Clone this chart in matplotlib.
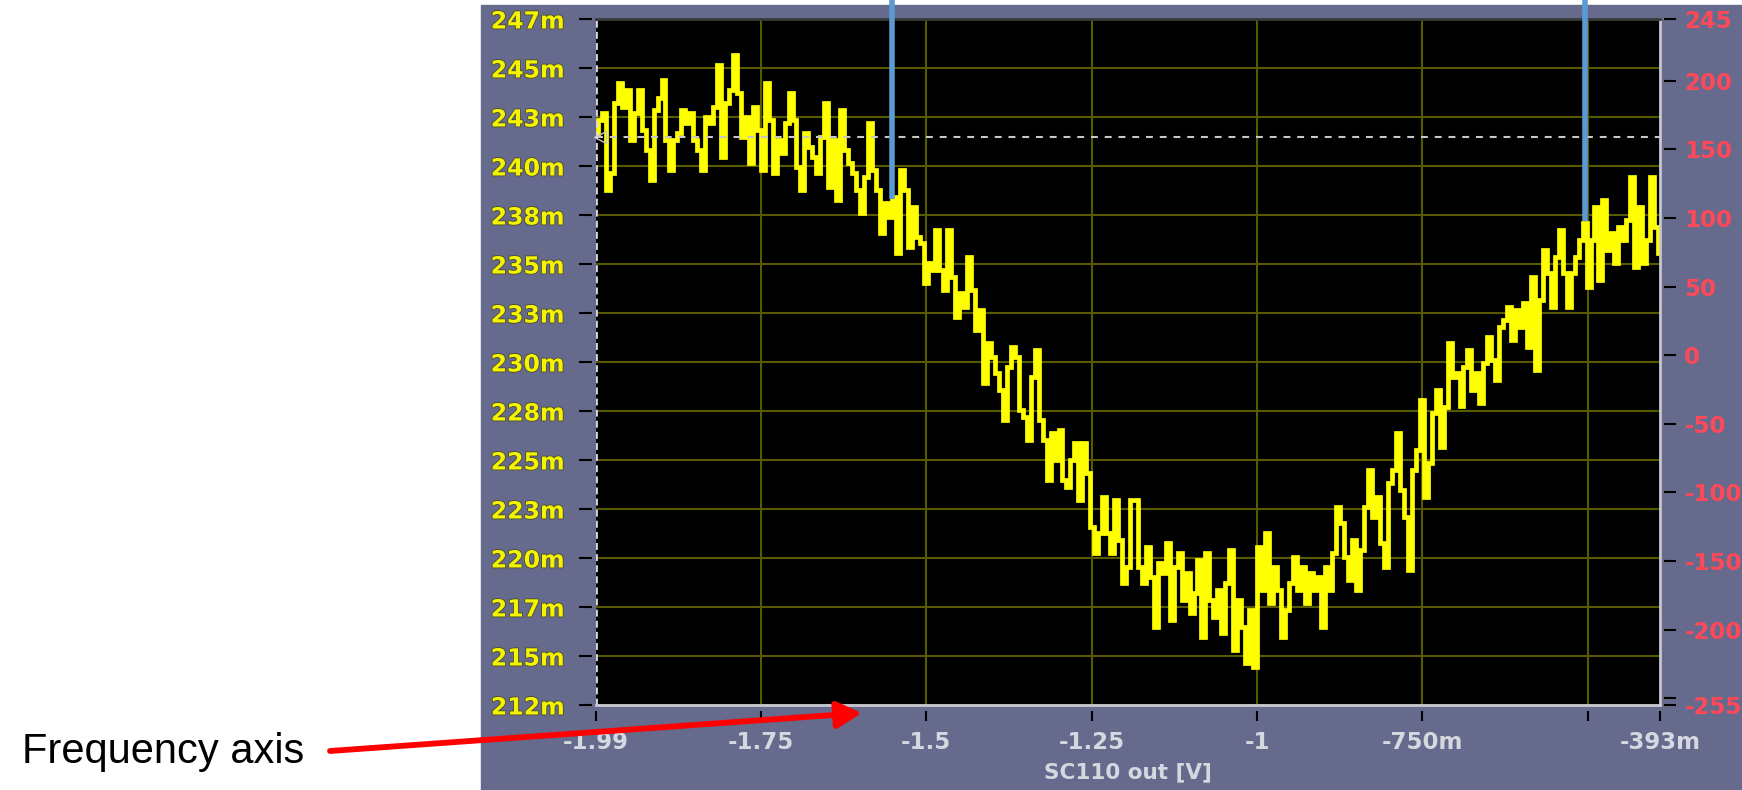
import matplotlib.pyplot as plt
import matplotlib.patheffects as pe
import numpy as np

plt.rcParams['font.family'] = 'DejaVu Sans'
plt.rcParams['font.weight'] = 'bold'

# sweep limits of the SC110 output (V)
x_start, x_stop = -1.999, -0.391

# detector output along the sweep (mV), one reading every ~6 mV of sweep
response_mv = np.array([
    # -2.0 .. -1.68
    241.67, 242.35, 242.69, 238.78, 239.63, 243.20, 244.22, 243.03, 243.88, 241.33,
    242.69, 243.88, 241.84, 240.82, 239.29, 242.86, 243.46, 244.39, 241.33, 239.80,
    241.33, 241.67, 242.86, 242.18, 242.69, 241.33, 240.82, 239.80, 242.52, 242.18,
    243.03, 245.16, 240.48, 243.20, 243.88, 245.67, 243.71, 241.50, 242.52, 240.14,
    243.03, 241.84, 239.80, 244.22, 242.35, 239.63, 241.33, 240.65, 242.18, 243.71,
    242.35, 239.97, 238.78, 241.67,
    # -1.68 .. -1.35
    240.99, 240.48, 239.63, 241.50, 243.20, 238.95, 241.33, 238.27, 242.86, 240.82,
    240.14, 239.63, 238.78, 237.59, 239.46, 242.18, 239.80, 238.78, 236.57, 238.10,
    237.42, 238.44, 235.55, 239.80, 238.78, 235.89, 237.93, 236.40, 236.06, 234.02,
    235.04, 234.70, 236.74, 234.70, 233.68, 236.74, 234.36, 232.32, 233.51, 232.83,
    235.38, 233.68, 231.64, 232.66, 228.92, 230.96, 230.28, 229.43, 228.58, 227.05,
    229.77, 230.79, 230.28, 227.56,
    # -1.35 .. -1.01
    227.21, 226.02, 229.25, 230.61, 227.04, 226.02, 223.98, 226.36, 225.00, 226.53,
    223.98, 223.64, 225.00, 225.85, 222.96, 225.85, 224.32, 221.60, 220.24, 221.26,
    223.13, 221.26, 220.24, 222.96, 220.92, 218.71, 219.56, 222.96, 222.96, 219.56,
    218.71, 220.58, 219.05, 216.50, 219.73, 219.22, 220.75, 216.84, 219.56, 220.24,
    217.86, 219.22, 217.18, 218.20, 219.90, 215.99, 220.24, 217.86, 217.01, 218.37,
    216.16, 218.71, 220.41, 215.31, 217.86, 216.50, 214.63,
    # -1.01 .. -0.70
    217.35, 214.46, 220.58, 218.37, 221.26, 217.69, 219.56, 218.37, 215.99, 217.35,
    218.71, 220.07, 218.37, 219.56, 217.69, 219.22, 218.37, 219.05, 216.50, 219.56,
    218.37, 220.24, 222.62, 221.77, 220.07, 218.88, 220.92, 218.37, 220.41, 222.62,
    224.49, 222.11, 223.13, 220.75, 219.56, 223.81, 224.49, 226.36, 223.47, 222.11,
    219.39, 224.49, 225.51, 228.06, 223.13, 224.83, 227.38, 228.57, 225.68, 227.72,
    230.95, 229.25,
    # -0.70 .. -0.39
    229.43, 227.73, 229.77, 230.62, 228.58, 229.43, 227.90, 229.94, 231.30, 230.11,
    229.09, 231.81, 232.15, 232.83, 231.13, 232.66, 231.81, 233.00, 230.79, 234.36,
    229.60, 233.17, 235.72, 234.53, 232.83, 235.38, 236.74, 234.53, 232.83, 234.53,
    235.38, 236.23, 237.08, 233.85, 236.23, 237.93, 234.19, 238.27, 235.72, 236.57,
    235.04, 236.91, 236.23, 237.25, 239.46, 234.87, 237.93, 235.04, 236.23, 239.46,
    236.91, 235.55,
])
sweep_v = np.linspace(x_start, x_stop, len(response_mv))

left_ticks = np.linspace(212.5, 247.5, 15)
left_labels = ['212m', '215m', '217m', '220m', '223m', '225m', '228m', '230m',
               '233m', '235m', '238m', '240m', '243m', '245m', '247m']
right_ticks = [245, 200, 150, 100, 50, 0, -50, -100, -150, -200, -255]
right_labels = [str(v) for v in right_ticks]
x_ticks = [x_start, -1.75, -1.5, -1.25, -1.0, -0.75, -0.5, x_stop]
x_labels = ['-1.99', '-1.75', '-1.5', '-1.25', '-1', '-750m', '', '-393m']
grid_x = [-1.75, -1.5, -1.25, -1.0, -0.75, -0.5]
trigger_mv = 241.46
cursor_v = [-1.551, -0.504]
cursor_end_mv = [238.3, 237.2]

panel = '#666a8c'
grid_col = '#595900'
yellow = '#f4f400'
red = '#ff4858'
pale = '#d6d8e0'
W, H = 1742, 790

fig = plt.figure(figsize=(W / 100, H / 100), dpi=100, facecolor='white')
fig.patches.append(plt.Rectangle((481 / W, 0), 1 - 481 / W, 1 - 5 / H,
                                 transform=fig.transFigure, color=panel, zorder=-1))

ax = fig.add_axes([596 / W, 1 - 705 / H, 1064 / W, 686 / H])
ax.set_facecolor('black')
ax.set_xlim(x_start, x_stop)
ax.set_ylim(212.5, 247.5)

# grid
ax.set_yticks(left_ticks)
ax.set_yticklabels(left_labels)
ax.grid(axis='y', color=grid_col, lw=1.5)
for gx in grid_x:
    ax.axvline(gx, color=grid_col, lw=1.5, zorder=1)

# trace
ax.plot(sweep_v, response_mv, color='#ffff00', lw=3.4, drawstyle='steps-mid',
        solid_joinstyle='miter', zorder=3)

# trigger level and left cursor
ax.axhline(trigger_mv, color='#c8c8c8', lw=1.5, ls=(0, (3.3, 3.3)), zorder=4)
ax.plot([x_start + 0.006], [trigger_mv], marker='<', ms=8, mfc='none', mec='#c8c8c8',
        clip_on=False, zorder=5)
ax.axvline(x_start, color='#d8d8d8', lw=2, ls=(0, (2.5, 1.5)), zorder=5)

# borders
ax.plot([0, 1], [0, 0], transform=ax.transAxes, color='#c8c8d0', lw=2, clip_on=False, zorder=6)
ax.plot([1, 1], [0, 1], transform=ax.transAxes, color='#c8c8d0', lw=2, clip_on=False, zorder=6)
ax.plot([0, 1], [1, 1], transform=ax.transAxes, color='#3a3a3a', lw=2, clip_on=False, zorder=6)
for s in ax.spines.values():
    s.set_visible(False)
ax.spines['left'].set_position(('outward', 3))
ax.spines['bottom'].set_position(('outward', 4))

ax.tick_params(axis='y', length=9.5, width=1.5, color='black', pad=10,
               labelsize=17, labelcolor=yellow)
for lab in ax.get_yticklabels():
    lab.set_path_effects([pe.withStroke(linewidth=1.2, foreground='#4c4c30')])

ax.set_xticks(x_ticks)
ax.set_xticklabels(x_labels)
ax.tick_params(axis='x', length=7.5, width=1.5, color='black', pad=7,
               labelsize=16.5, labelcolor=pale)

# right axis
ax2 = ax.twinx()
ax2.set_ylim(-255, 245)
ax2.set_yticks(right_ticks)
ax2.set_yticklabels(right_labels)
ax2.set_yticks([-250], minor=True)
for s in ax2.spines.values():
    s.set_visible(False)
ax2.spines['right'].set_position(('outward', 3))
ax2.tick_params(axis='y', which='both', length=8.5, width=1.5, color='black', pad=6,
                labelsize=16.5, labelcolor=red)

# cursor markers
for cx, cy in zip(cursor_v, cursor_end_mv):
    ax.plot([cx, cx], [cy, 249.5], color='#5b9bd5', lw=4, clip_on=False,
            solid_capstyle='butt', zorder=7)

fig.text(1128 / W, 1 - 772 / H, 'SC110 out [V]', color=pale, fontsize=15.5,
         ha='center', va='center')

fig.text(22 / W, 1 - 752 / H, 'Frequency axis', family='Liberation Sans',
         fontweight='normal', fontsize=30, color='black', ha='left', va='center')
ax.annotate('', xy=(862, H - 713), xycoords='figure pixels',
            xytext=(330, H - 751), textcoords='figure pixels',
            arrowprops=dict(arrowstyle='-|>,head_length=0.6,head_width=0.32',
                            color='#ff0000', lw=4.2, mutation_scale=25,
                            shrinkA=0, shrinkB=0),
            annotation_clip=False, zorder=8)

fig.savefig('out.png', dpi=100)
